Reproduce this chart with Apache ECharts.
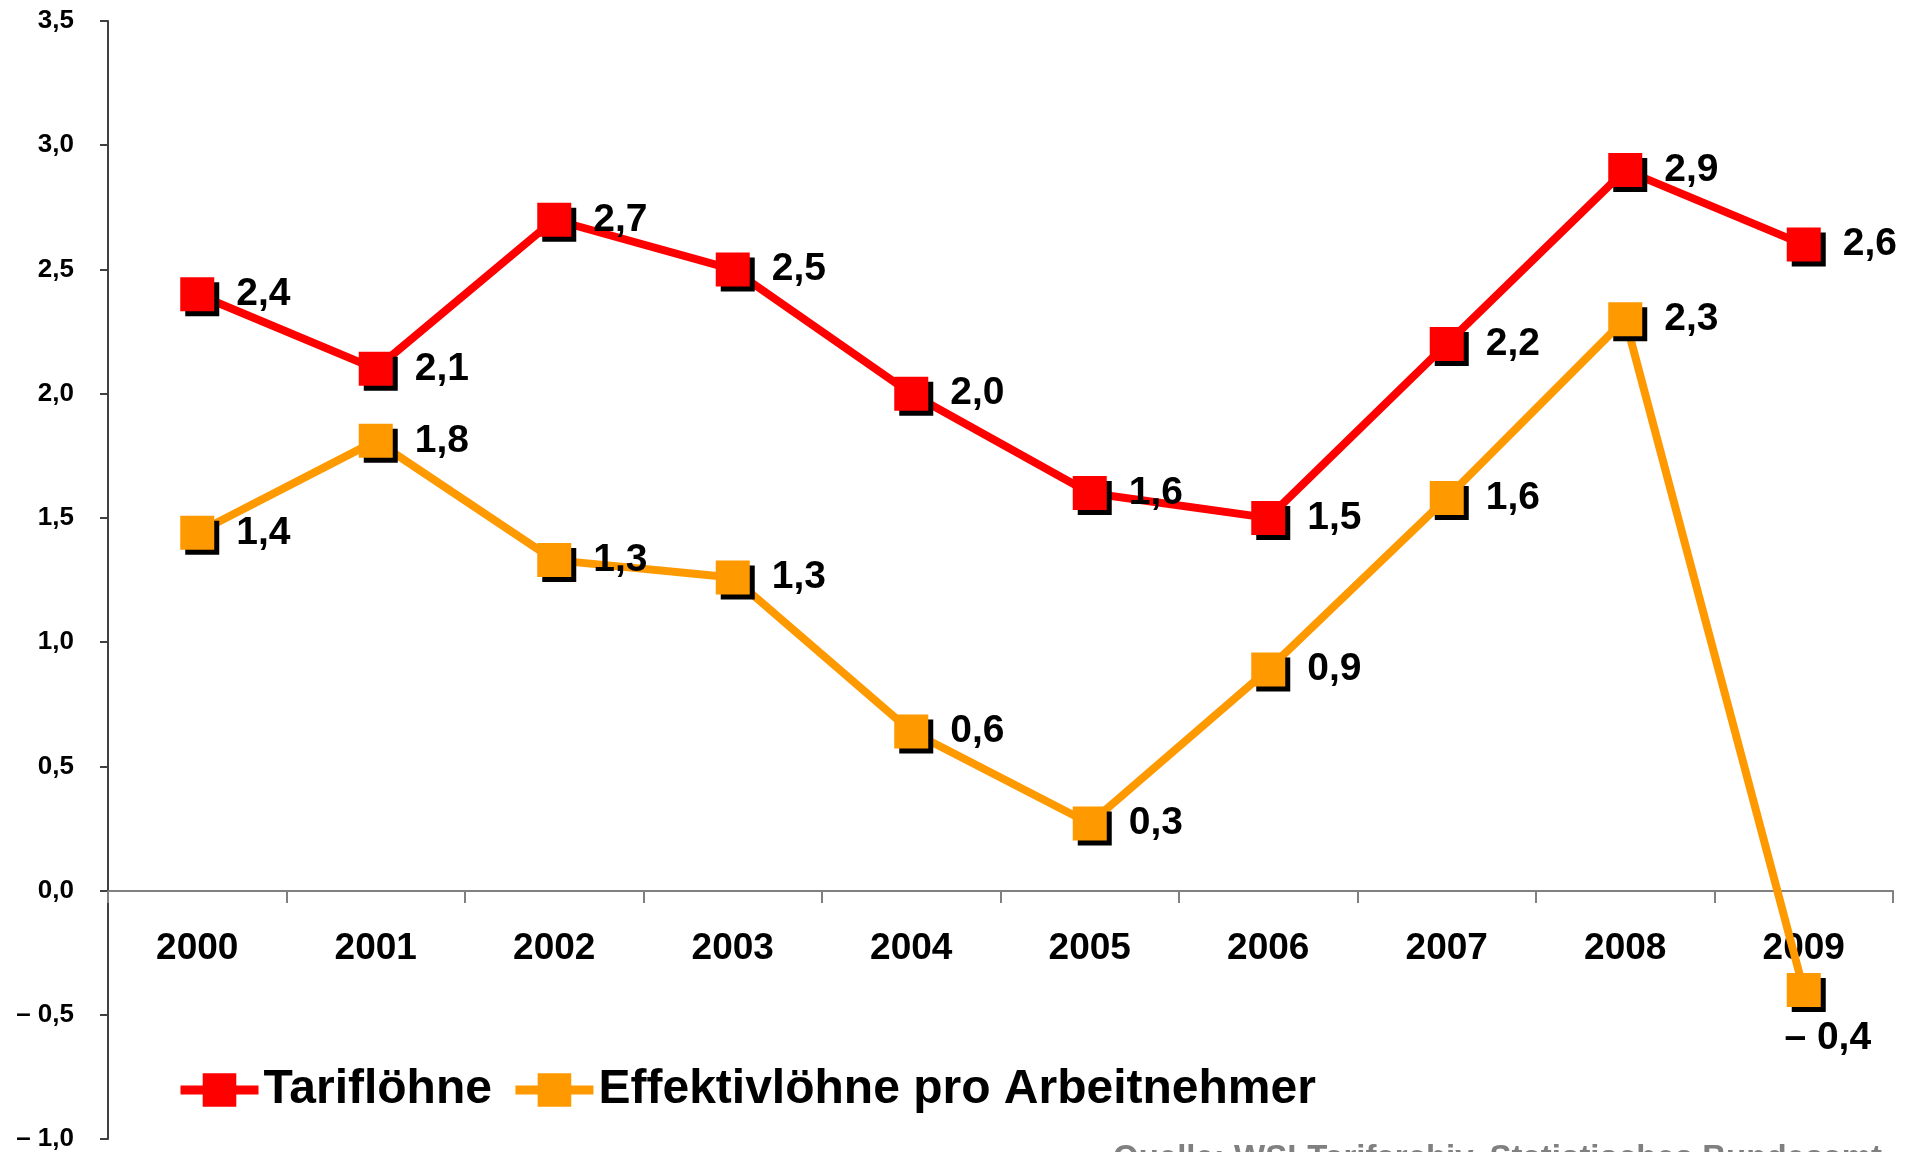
<!DOCTYPE html>
<html>
<head>
<meta charset="utf-8">
<title>Tariflöhne und Effektivlöhne</title>
<script src="https://cdn.jsdelivr.net/npm/echarts@6/dist/echarts.min.js"></script>
<style>
  html, body { margin: 0; padding: 0; background: #fff; }
  #chart { width: 1908px; height: 1152px; }
</style>
</head>
<body>
<div id="chart"></div>
<script>
// Jahre
const years = ['2000', '2001', '2002', '2003', '2004', '2005', '2006', '2007', '2008', '2009']
// Veränderung gegenüber Vorjahr in %
const tarifloehne = [2.4, 2.1, 2.7, 2.5, 2.0, 1.6, 1.5, 2.2, 2.9, 2.6]
const effektivloehne = [1.44, 1.81, 1.33, 1.26, 0.64, 0.27, 0.89, 1.58, 2.3, -0.4]
const yTicks = [-1.0, -0.5, 0.0, 0.5, 1.0, 1.5, 2.0, 2.5, 3.0, 3.5]
const sourceText = 'Quelle: WSI-Tarifarchiv, Statistisches Bundesamt'

const FONT = '"Liberation Sans", Arial, sans-serif'
const GRID_TOP = 21
const GRID_BOTTOM = 13
const PLOT_H = 1152 - GRID_TOP - GRID_BOTTOM

const fmt = (v, sep) => {
  const s = Math.abs(v).toFixed(1).replace('.', ',')
  return v < 0 ? '–' + sep + s : s
}

const yMin = yTicks[0]
const yMax = yTicks[yTicks.length - 1]
// x-Achse liegt bei 0: Abstand vom unteren Rand des Diagramms
const zeroOffset = Math.round(PLOT_H * (0 - yMin) / (yMax - yMin))

const markerStyle = color => ({
  color: color,
  borderWidth: 0,
  shadowColor: '#000',
  shadowBlur: 0,
  shadowOffsetX: 5,
  shadowOffsetY: 5,
})

const pointLabel = {
  show: true,
  position: 'right',
  distance: 22,
  color: '#000',
  fontFamily: FONT,
  fontWeight: 'bold',
  fontSize: 39,
  formatter: p => fmt(p.value, ' '),
}

// letzter Wert der Effektivlöhne: Beschriftung unter dem Punkt
const effektivData = effektivloehne.map(v =>
  v < 0
    ? { value: v, label: { position: 'bottom', distance: 12, offset: [24, 0] } }
    : v
)

const chart = echarts.init(document.getElementById('chart'))

const option = {
  animation: false,
  backgroundColor: '#fff',
  grid: {
    left: 108, right: 15, top: GRID_TOP, bottom: GRID_BOTTOM,
    containLabel: false,
    outerBoundsMode: 'none',
  },
  legend: {
    data: ['Tariflöhne', 'Effektivlöhne pro Arbeitnehmer'],
    left: 176,
    top: 1066,
    padding: 0,
    itemWidth: 78,
    itemHeight: 42,
    itemGap: 19,
    textStyle: { color: '#000', fontFamily: FONT, fontWeight: 'bold', fontSize: 48 },
    itemStyle: { shadowColor: 'transparent', shadowOffsetX: 0, shadowOffsetY: 0 },
    lineStyle: { width: 9 },
  },
  xAxis: {
    type: 'category',
    data: years,
    boundaryGap: true,
    offset: -zeroOffset,
    axisLine: { onZero: false, lineStyle: { color: '#808080', width: 2 } },
    axisTick: { show: true, length: 12, lineStyle: { color: '#808080', width: 2 } },
    axisLabel: { margin: 39, color: '#000', fontFamily: FONT, fontWeight: 'bold', fontSize: 37 },
    splitLine: { show: false },
  },
  yAxis: {
    type: 'value',
    min: yMin,
    max: yMax,
    interval: 0.5,
    axisLine: { show: true, lineStyle: { color: '#404040', width: 2 } },
    axisTick: { show: true, inside: false, length: 8, lineStyle: { color: '#404040', width: 2 } },
    axisLabel: {
      margin: 34,
      color: '#000',
      fontFamily: FONT,
      fontWeight: 'bold',
      fontSize: 26,
      formatter: v => fmt(v, ' '),
    },
    splitLine: { show: false },
  },
  series: [
    {
      name: 'Effektivlöhne pro Arbeitnehmer',
      type: 'line',
      data: effektivData,
      symbol: 'rect',
      symbolSize: 34,
      lineStyle: { color: '#FF9900', width: 8 },
      itemStyle: markerStyle('#FF9900'),
      label: pointLabel,
      z: 2,
    },
    {
      name: 'Tariflöhne',
      type: 'line',
      data: tarifloehne,
      symbol: 'rect',
      symbolSize: 34,
      lineStyle: { color: '#FF0000', width: 8 },
      itemStyle: markerStyle('#FF0000'),
      label: pointLabel,
      z: 3,
    },
  ],
  graphic: [
    {
      type: 'text',
      left: 1113,
      top: 1142,
      style: {
        text: sourceText,
        fill: '#808080',
        font: 'bold 33px ' + FONT,
      },
    },
  ],
}

chart.setOption(option)
</script>
</body>
</html>
